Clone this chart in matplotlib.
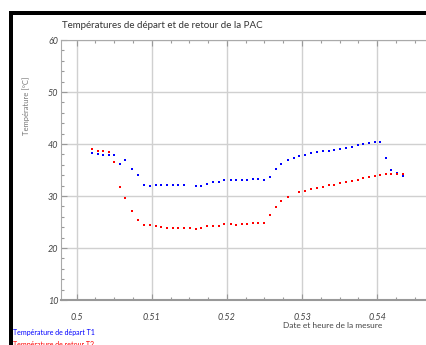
import numpy as np
import matplotlib
matplotlib.use("Agg")
import matplotlib.pyplot as plt
from matplotlib.patches import Rectangle
from matplotlib.ticker import MultipleLocator

plt.rcParams['font.family'] = ['Lato', 'DejaVu Sans']

# time of measure (fraction of day) and temperatures [°C]
t = [0.50208, 0.50280, 0.50354, 0.50426, 0.50501, 0.50577, 0.50647, 0.50736,
     0.50812, 0.50896, 0.50980, 0.51056, 0.51127, 0.51202, 0.51278, 0.51353,
     0.51429, 0.51505, 0.51585, 0.51655, 0.51731, 0.51819, 0.51891, 0.51965,
     0.52051, 0.52121, 0.52197, 0.52268, 0.52344, 0.52418, 0.52494, 0.52574,
     0.52650, 0.52724, 0.52814, 0.52890, 0.52964, 0.53040, 0.53116, 0.53204,
     0.53280, 0.53356, 0.53430, 0.53506, 0.53582, 0.53666, 0.53742, 0.53816,
     0.53892, 0.53968, 0.54043, 0.54115, 0.54189, 0.54265, 0.54349]

t1 = [38.2, 38.1, 37.95, 37.8, 37.8, 36.2, 36.9, 35.1, 34.0, 32.1, 32.0, 32.2,
      32.1, 32.1, 32.1, 32.1, 32.1, np.nan, 32.0, 32.0, 32.4, 32.6, 32.75, 33.0,
      33.0, 33.0, 33.0, 33.1, 33.3, 33.3, 33.0, 33.7, 35.1, 36.2, 36.9, 37.4,
      37.6, 37.95, 38.2, 38.5, 38.6, 38.7, 38.85, 39.1, 39.2, 39.5, 39.75, 40.0,
      40.1, 40.3, 40.45, 37.4, 34.95, 34.4, 33.9]

t2 = [39.0, 38.7, 38.6, 38.5, 36.6, 31.8, 29.6, 27.05, 25.45, 24.35, 24.35, 24.3,
      24.0, 23.85, 23.85, 23.85, 23.85, 23.8, 23.65, 23.8, 24.15, 24.15, 24.15,
      24.7, 24.55, 24.4, 24.7, 24.7, 24.9, 24.9, 24.9, 26.35, 27.8, 29.0, 29.9,
      np.nan, 30.7, 30.95, 31.3, 31.55, 31.8, 32.05, 32.2, 32.55, 32.7, 32.95,
      33.15, 33.4, 33.65, 33.8, 34.0, 34.25, 34.25, 34.25, 34.25]

W, H = 427, 345
fig = plt.figure(figsize=(W / 100, H / 100), dpi=100)
ax = fig.add_axes([61 / W, 1 - 300 / H, (W - 61) / W, 260 / H])

ax.plot(t, t1, 's', color='#0000ff', ms=1.9, mew=0)
ax.plot(t, t2, 's', color='#ff0000', ms=1.9, mew=0)

ax.set_xlim(0.49791, 0.54664)
ax.set_ylim(10, 60)
ax.xaxis.set_major_locator(MultipleLocator(0.01))
ax.xaxis.set_minor_locator(MultipleLocator(0.0025))
ax.yaxis.set_major_locator(MultipleLocator(10))
ax.yaxis.set_minor_locator(MultipleLocator(2))
ax.set_xticks([0.50, 0.51, 0.52, 0.53, 0.54])
ax.set_xticklabels(['0.5', '0.51', '0.52', '0.53', '0.54'])

ax.grid(True, which='major', color='#d0d0d0', lw=1)
ax.tick_params(which='both', direction='in', top=True, right=False,
               color='#999999', labelsize=6.5, labelcolor='#444444')
ax.tick_params(which='major', length=4, width=0.8)
ax.tick_params(which='minor', length=2.5, width=0.8)
ax.tick_params(axis='x', pad=9)
ax.tick_params(axis='y', pad=2)
for lab in ax.get_xticklabels() + ax.get_yticklabels():
    lab.set_style('italic')

for s in ['top', 'left']:
    ax.spines[s].set_color('#aaaaaa')
    ax.spines[s].set_linewidth(0.8)
ax.spines['bottom'].set_color('#999999')
ax.spines['bottom'].set_linewidth(1.5)
ax.spines['right'].set_visible(False)

ax.set_ylabel('Température [°C]', fontsize=5.5, color='#777777')
ax.yaxis.set_label_coords(-0.085, 0.746)

fig.text(62 / W, 1 - 25.5 / H, 'Températures de départ et de retour de la PAC',
         fontsize=7, color='#333333', ha='left', va='center')
fig.text(333 / W, 1 - 326 / H, 'Date et heure de la mesure',
         fontsize=6, color='#444444', ha='center', va='center')
fig.text(13 / W, 1 - 332 / H, 'Température de départ T1',
         fontsize=5, color='#0000ff', ha='left', va='center')
fig.text(13 / W, 1 - 345 / H, 'Température de retour T2',
         fontsize=5, color='#ff0000', ha='left', va='center')

# black frame on the top and left edges
fig.add_artist(Rectangle((9 / W, 1 - 15 / H), (W - 9) / W, 4 / H,
                         transform=fig.transFigure, color='black', lw=0))
fig.add_artist(Rectangle((9 / W, 0), 4 / W, 1 - 11 / H,
                         transform=fig.transFigure, color='black', lw=0))

fig.savefig('out.png', dpi=100)
